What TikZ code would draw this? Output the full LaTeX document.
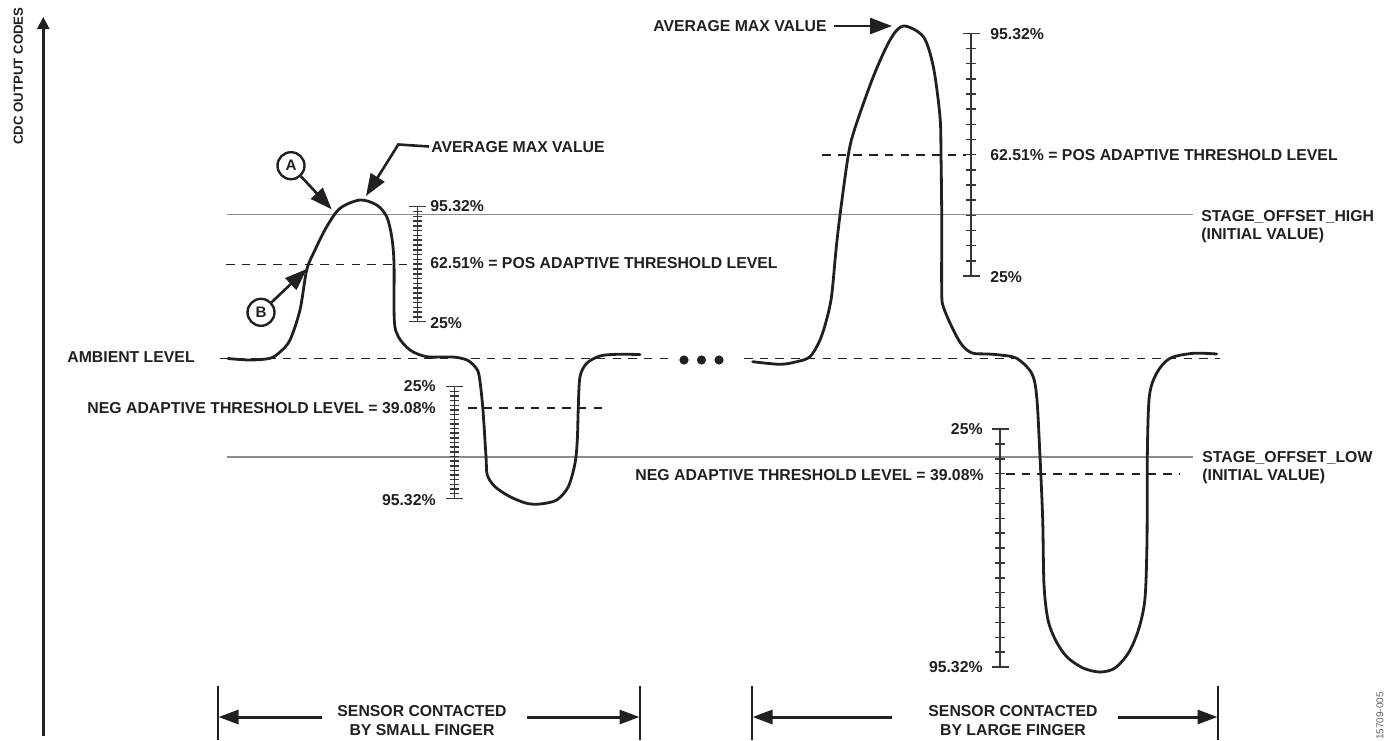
\documentclass[tikz,border=0pt]{standalone}
\usepackage{fontspec}
\setmainfont{Liberation Sans}
\usetikzlibrary{arrows.meta}
\definecolor{ink}{HTML}{231F20}
\definecolor{refgray}{HTML}{8C8C8C}
\newcommand{\drawscale}[5]{% x, ytop, ybot, n, n-1
  \draw[tickline] (#1,#2) -- (#1,#3);
  \draw[tickline] (#1-8.5,#2) -- (#1+8.5,#2) (#1-8.5,#3) -- (#1+8.5,#3);
  \foreach \k in {1,...,#5} {
    \pgfmathsetmacro\yy{#2+(#3-#2)*\k/#4}
    \draw[tickline] (#1-4.7,\yy) -- (#1+4.7,\yy);
  }
}
\begin{document}
\begin{tikzpicture}[x=0.5pt,y=-0.5pt,
  lbl/.style={font=\bfseries\fontsize{7.9}{9}\selectfont, inner sep=0pt, text height=5.7pt, text depth=0pt, text=ink},
  wave/.style={draw=ink, line width=1.4pt, line cap=round, line join=round},
  refline/.style={draw=refgray, line width=0.65pt},
  dline/.style={draw=ink, line width=0.8pt, dash pattern=on 4.25pt off 3.6pt},
  tickline/.style={draw=ink!90, line width=0.75pt},
  bigarrow/.style={draw=ink, line width=1.3pt, -{Triangle[length=11pt,width=8pt]}},
  botarrow/.style={draw=ink, line width=1.5pt, -{Triangle[length=10pt,width=7pt]}},
  bracket/.style={draw=ink, line width=0.6pt},
  letter/.style={circle, draw=ink, line width=1.2pt, minimum size=13.5pt, inner sep=0pt, font=\bfseries\fontsize{7.6}{8}\selectfont, text=ink},
  dot/.style={circle, fill=ink, minimum size=4.6pt, inner sep=0pt}
]
\useasboundingbox (0,0) rectangle (1385,740);

% y axis
\coordinate (axb) at (43.3,736);
\coordinate (axt) at (43.3,17);
\draw[draw=ink, line width=1.2pt, -{Triangle[length=6pt,width=6pt]}] (axb) -- (axt);
\node[rotate=90, font=\bfseries\fontsize{6.6}{8}\selectfont, inner sep=0pt, text=ink] (ylab) at (18.3,76) {CDC OUTPUT CODES};

% reference lines
\draw[refline] (227,214.3) -- (1193,214.3);
\draw[refline] (227,457) -- (1193,457);

% dashed levels
\draw[dline] (220,358.3) -- (671,358.3);
\draw[dline] (744,358.3) -- (1220,358.3);
\draw[dline] (226,264.3) -- (413,264.3);
\draw[dline] (468,407.7) -- (603,407.7);
\draw[dline] (822,154.7) -- (966,154.7);
\draw[dline] (1006,474) -- (1180,474);

% dots
\node[dot] (d1) at (684,360) {};
\node[dot] (d2) at (701.5,360) {};
\node[dot] (d3) at (719,360) {};

% scales
\drawscale{417.7}{206.7}{321.7}{24}{23}
\drawscale{454.3}{386.7}{498.3}{24}{23}
\drawscale{971}{33.3}{276}{16}{15}
\drawscale{1000}{429}{667}{16}{15}

% left waveform
\draw[wave] plot[smooth, tension=0.5] coordinates {
 (228,358.5) (250,360) (270,358.3) (280,352) (290,340) (300,310) (306.7,270) (315,250)
 (326.7,226.7) (340,208.3) (360,200) (376.7,205) (386.7,216.7) (391.7,236.7) (394,263)
 (394.3,320) (398.3,336.7) (410,350) (426.7,356.7) (453,357) (467,360) (475,366.7)
 (479,375) (482.7,406.7) (486,456.7) (487.3,475) (495,486.7) (510,496.7) (526.7,503.3)
 (540,504) (556.7,500) (568.3,486.7) (575,463.3) (577.3,440) (578.3,406.7) (580,376.7)
 (586.7,363.3) (600,356) (616.7,354.3) (640,354.5)};

% right waveform
\draw[wave] plot[smooth, tension=0.5] coordinates {
 (752.7,361.7) (780,364.3) (796.7,361.7) (810,356.7) (820,340) (827,318) (831.7,295)
 (836,250) (840,215) (848.3,155) (855,128) (873.3,76.7) (890,40) (903.3,26) (923.3,36.7)
 (933.3,66.7) (940,116.7) (941,155) (941.7,215) (941.7,290) (943.3,306.7) (953.3,330)
 (962,345) (972,353) (988,354) (1000,355) (1016.7,358.3) (1031.7,373.3) (1036.7,396.7)
 (1040,456.7) (1042.7,520) (1044,585) (1048,620) (1056,641) (1067,657) (1083,668)
 (1100,672) (1115,668) (1129,652) (1139,628) (1145,598) (1147,540) (1147.3,456.7)
 (1149.3,396.7) (1156.7,373) (1170,358.3) (1193.3,353.3) (1216.7,354)};

% left labels
\node[lbl, anchor=west] (amb) at (67,357) {AMBIENT LEVEL};
\node[lbl, anchor=west] (avgL) at (431,146.5) {AVERAGE MAX VALUE};
\node[lbl, anchor=west] (lp95) at (430,206) {95.32\%};
\node[lbl, anchor=west] (lp62) at (430,262.5) {62.51\% = POS ADAPTIVE THRESHOLD LEVEL};
\node[lbl, anchor=west] (lp25) at (430,323) {25\%};
\node[lbl, anchor=east] (ln25) at (436,385.5) {25\%};
\node[lbl, anchor=east] (ln39) at (436,407.5) {NEG ADAPTIVE THRESHOLD LEVEL = 39.08\%};
\node[lbl, anchor=east] (ln95) at (436,499.5) {95.32\%};

% right labels
\node[lbl, anchor=west] (avgR) at (653,26) {AVERAGE MAX VALUE};
\node[lbl, anchor=west] (rp95) at (990,34) {95.32\%};
\node[lbl, anchor=west] (rp62) at (990,154.5) {62.51\% = POS ADAPTIVE THRESHOLD LEVEL};
\node[lbl, anchor=west] (rp25) at (990,277) {25\%};
\node[lbl, anchor=west] (soh1) at (1201,215.5) {STAGE\_OFFSET\_HIGH};
\node[lbl, anchor=west] (soh2) at (1201,234) {(INITIAL VALUE)};
\node[lbl, anchor=west] (sol1) at (1202,456.5) {STAGE\_OFFSET\_LOW};
\node[lbl, anchor=west] (sol2) at (1202,475) {(INITIAL VALUE)};
\node[lbl, anchor=east] (rn25) at (983,428.5) {25\%};
\node[lbl, anchor=east] (rn39) at (984,475) {NEG ADAPTIVE THRESHOLD LEVEL = 39.08\%};
\node[lbl, anchor=east] (rn95) at (983,667) {95.32\%};

% circles A and B with arrows
\node[letter] (cA) at (291,165.7) {A};
\node[letter] (cB) at (261,312.3) {B};
\coordinate (tipA) at (331.7,209.3);
\coordinate (tipB) at (306.7,269);
\draw[bigarrow] (cA) -- (tipA);
\draw[bigarrow] (cB) -- (tipB);

% average max value arrows
\coordinate (kneeL) at (398.3,144.5);
\coordinate (tipAvgL) at (366,196);
\draw[bigarrow, line join=miter] ([xshift=-1pt]avgL.west) -- (kneeL) -- (tipAvgL);
\coordinate (tipAvgR) at (892,26);
\draw[bigarrow] ([xshift=3.5pt]avgR.east) -- (tipAvgR);

% bottom brackets
\draw[bracket] (218,686) -- (218,740);
\draw[bracket] (640,686) -- (640,740);
\draw[bracket] (752,686) -- (752,740);
\draw[bracket] (1218,686) -- (1218,740);
\node[lbl] (sL1) at (422,711) {SENSOR CONTACTED};
\node[lbl] (sL2) at (422,730) {BY SMALL FINGER};
\node[lbl] (sR1) at (1013,711) {SENSOR CONTACTED};
\node[lbl] (sR2) at (1013,730) {BY LARGE FINGER};
\coordinate (aL1s) at (322,717);
\coordinate (aL1e) at (218.5,717);
\coordinate (aL2s) at (527,717);
\coordinate (aL2e) at (639.5,717);
\coordinate (aR1s) at (892,717);
\coordinate (aR1e) at (752.5,717);
\coordinate (aR2s) at (1118,717);
\coordinate (aR2e) at (1217.5,717);
\draw[botarrow] (aL1s) -- (aL1e);
\draw[botarrow] (aL2s) -- (aL2e);
\draw[botarrow] (aR1s) -- (aR1e);
\draw[botarrow] (aR2s) -- (aR2e);

% figure code
\node[rotate=90, font=\fontsize{5}{6}\selectfont, inner sep=0pt, text=ink!70] (code) at (1380,716) {15709-005};
\end{tikzpicture}
\end{document}
